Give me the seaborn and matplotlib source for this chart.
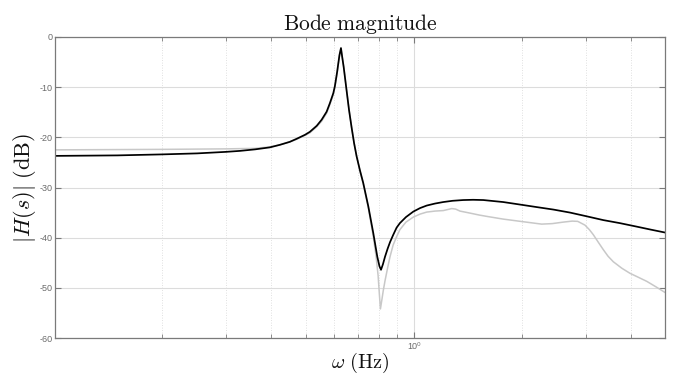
import numpy as np
import pandas as pd
import matplotlib
matplotlib.use("Agg")
import matplotlib.pyplot as plt
import seaborn as sns
from matplotlib.ticker import LogLocator, NullFormatter, FixedLocator

# ---- data ----
freq_model = [0.1, 0.15, 0.2, 0.25, 0.3, 0.329, 0.362, 0.398, 0.424, 0.452, 0.472,
              0.498, 0.514, 0.537, 0.554, 0.572, 0.584, 0.597, 0.603, 0.612, 0.616,
              0.621, 0.627, 0.632, 0.638, 0.649, 0.66, 0.671, 0.682, 0.693, 0.708,
              0.723, 0.747, 0.771, 0.791, 0.802, 0.81, 0.82, 0.831, 0.845, 0.858,
              0.875, 0.895, 0.914, 0.95, 0.996, 1.04, 1.085, 1.144, 1.206, 1.28,
              1.37, 1.46, 1.558, 1.66, 1.77, 1.97, 2.19, 2.44, 2.713, 3.0, 3.357,
              3.73, 4.156, 4.55, 5.0]
mag_model = [-23.7, -23.6, -23.4, -23.2, -22.9, -22.7, -22.4, -22.0, -21.5, -20.9, -20.3,
             -19.5, -18.9, -17.7, -16.5, -14.9, -13.2, -11.2, -9.8, -6.9, -5.4,
             -3.6, -2.2, -4.0, -6.0, -10.3, -14.5, -18.0, -21.2, -23.8, -26.6,
             -29.1, -33.8, -39.1, -43.8, -45.7, -46.4, -45.3, -43.8, -42.2, -40.9,
             -39.5, -38.0, -37.1, -35.9, -34.8, -34.1, -33.6, -33.2, -32.9, -32.65,
             -32.5, -32.45, -32.5, -32.7, -32.9, -33.4, -33.9, -34.4, -35.0, -35.7, -36.5,
             -37.1, -37.8, -38.4, -39.0]

freq_meas = [0.1, 0.2, 0.3, 0.362, 0.398, 0.424, 0.452, 0.472, 0.498, 0.514, 0.537,
             0.554, 0.572, 0.584, 0.597, 0.603, 0.612, 0.616, 0.621, 0.627, 0.632,
             0.638, 0.649, 0.66, 0.671, 0.682, 0.693, 0.708, 0.723, 0.747, 0.771,
             0.785, 0.795, 0.802, 0.807, 0.814, 0.822, 0.831, 0.845, 0.858, 0.875,
             0.895, 0.914, 0.95, 0.996, 1.04, 1.085, 1.144, 1.206, 1.24, 1.273,
             1.305, 1.342, 1.43, 1.52, 1.606, 1.77, 2.0, 2.263, 2.42, 2.598, 2.75,
             2.85, 2.985, 3.07, 3.148, 3.25, 3.357, 3.46, 3.578, 3.78, 3.98, 4.2,
             4.43, 4.7, 5.0]
mag_meas = [-22.5, -22.4, -22.3, -22.2, -21.9, -21.5, -20.9, -20.4, -19.6, -19.1, -17.9,
            -16.8, -15.2, -13.5, -11.5, -10.1, -7.2, -5.6, -3.8, -2.3, -3.9,
            -5.9, -10.2, -14.4, -17.9, -21.1, -23.7, -26.7, -29.3, -34.1, -39.8,
            -43.8, -47.5, -51.5, -54.2, -52.5, -50.5, -48.6, -46.0, -43.8, -41.5,
            -39.8, -38.4, -36.9, -35.9, -35.3, -34.9, -34.7, -34.6, -34.4, -34.2,
            -34.3, -34.7, -35.1, -35.5, -35.8, -36.3, -36.8, -37.3, -37.2, -36.9, -36.7,
            -36.75, -37.5, -38.4, -39.4, -40.9, -42.4, -43.7, -44.8, -46.1, -47.1, -47.9,
            -48.7, -49.8, -51.0]

y_ticks = [-60, -50, -40, -30, -20, -10, 0]
title_text = r"$\mathrm{Bode\ magnitude}$"
xlabel_text = r"$\omega\ \mathrm{(Hz)}$"
ylabel_text = r"$|H(s)|\ \mathrm{(dB)}$"

df_model = pd.DataFrame({"f": freq_model, "mag": mag_model})
df_meas = pd.DataFrame({"f": freq_meas, "mag": mag_meas})

sns.set_theme(style="white")
plt.rcParams["mathtext.fontset"] = "cm"
plt.rcParams["axes.unicode_minus"] = False
plt.rcParams["font.family"] = ["Liberation Sans", "DejaVu Sans"]

fig = plt.figure(figsize=(6.8, 3.79), dpi=100)
ax = fig.add_axes([55 / 680, 1 - 338 / 379, 610 / 680, 301 / 379])

sns.lineplot(data=df_meas, x="f", y="mag", ax=ax, color="#c8c8c8", lw=1.1,
             estimator=None, sort=False)
sns.lineplot(data=df_model, x="f", y="mag", ax=ax, color="black", lw=1.25,
             estimator=None, sort=False)

ax.set_xscale("log")
ax.set_xlim(0.1007, 4.98)
ax.set_ylim(-60, 0)
ax.set_yticks(y_ticks)
ax.set_yticklabels([str(v) for v in y_ticks])
ax.xaxis.set_major_locator(FixedLocator([1.0]))
ax.set_xticklabels(["10\u2070"])
ax.xaxis.set_minor_locator(LogLocator(base=10, subs=np.arange(2, 10)))
ax.xaxis.set_minor_formatter(NullFormatter())

ax.grid(True, which="major", color="#dcdcdc", lw=0.8, ls="-")
ax.grid(True, which="minor", axis="x", color="#d6d6d6", lw=0.6, ls=(0, (1, 2)))
ax.set_axisbelow(True)

for s in ax.spines.values():
    s.set_color("#7a7a7a")
    s.set_linewidth(0.9)

ax.tick_params(axis="both", which="major", direction="in", length=4, width=0.8,
               colors="#7a7a7a", labelsize=6.5, labelcolor="#6a6a6a",
               top=True, right=True, bottom=True, left=True)
ax.tick_params(axis="x", which="minor", direction="in", length=3, width=0.6,
               colors="#7a7a7a", top=True, bottom=True)
ax.tick_params(axis="y", pad=2)
ax.tick_params(axis="x", pad=3)

ax.set_title(title_text, fontsize=15.5, pad=5, color="#111111")
ax.set_xlabel(xlabel_text, fontsize=14.5, labelpad=0, color="#111111")
ax.set_ylabel(ylabel_text, fontsize=16, labelpad=1, color="#111111")

fig.savefig("out.png", dpi=100)
